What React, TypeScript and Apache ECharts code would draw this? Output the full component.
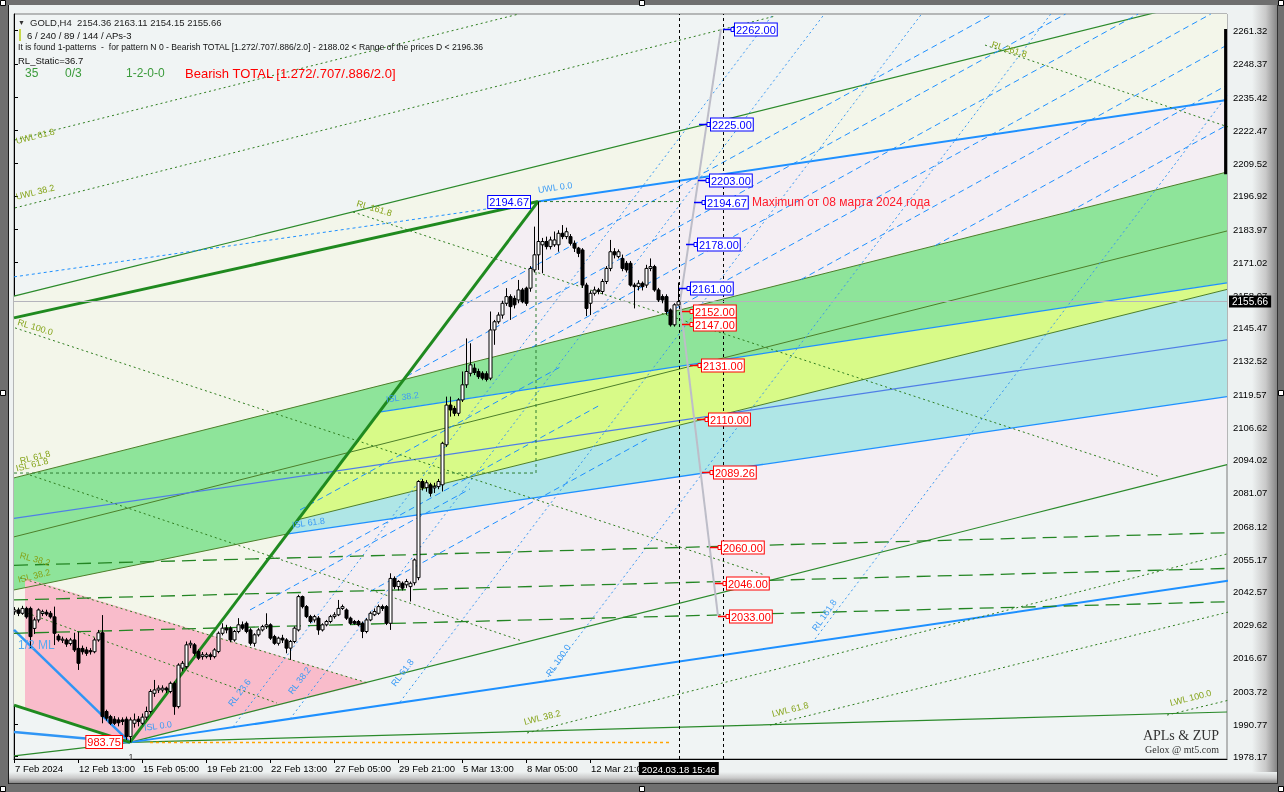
import { useEffect, useRef } from 'react';
import * as echarts from 'echarts';

// ---------- DATA (bar index on x, price on y) ----------
// H4 candles, bar 0 = 7 Feb 2024 21:00 ; [open, close, low, high]
const ohlc: number[][] = [
  [2034.7, 2035.4, 2033.5, 2036.5], [2035.4, 2034.1, 2033.0, 2036.3], [2034.1, 2036.0, 2033.5, 2037.0], [2036.0, 2032.7, 2032.0, 2036.7],
  [2036.0, 2025.0, 2020.4, 2036.7], [2028.2, 2031.5, 2026.0, 2032.5], [2031.5, 2035.4, 2030.5, 2036.0], [2034.0, 2034.7, 2033.0, 2035.5],
  [2034.5, 2033.8, 2033.0, 2035.5], [2034.1, 2032.7, 2032.0, 2035.0], [2032.7, 2026.3, 2021.7, 2036.7], [2025.2, 2023.7, 2023.0, 2026.0],
  [2023.7, 2024.0, 2022.5, 2025.0], [2023.7, 2022.1, 2021.0, 2024.5], [2022.3, 2023.7, 2021.5, 2024.5], [2023.7, 2019.8, 2019.0, 2026.5],
  [2020.4, 2014.6, 2012.0, 2026.9], [2020.4, 2019.1, 2018.0, 2021.5], [2019.8, 2018.5, 2017.5, 2021.0], [2019.5, 2019.1, 2018.0, 2020.5],
  [2019.1, 2023.7, 2018.5, 2024.5], [2023.7, 2026.5, 2023.0, 2027.6], [2026.5, 1993.8, 1991.2, 2033.4], [1995.8, 1993.2, 1992.2, 1996.5],
  [1993.8, 1991.2, 1990.5, 1994.5], [1992.8, 1991.2, 1990.5, 1994.0], [1992.5, 1991.4, 1990.0, 1993.5], [1992.5, 1991.9, 1990.5, 1993.5],
  [1992.8, 1986.0, 1984.7, 1993.8], [1986.0, 1992.5, 1983.75, 1993.5], [1991.2, 1992.5, 1989.5, 1995.0], [1992.8, 1991.9, 1990.0, 1994.0],
  [1991.2, 1993.6, 1990.5, 1995.0], [1993.6, 1995.8, 1992.5, 1997.7], [1995.8, 2003.6, 1995.0, 2004.5], [2002.9, 2004.2, 2001.5, 2008.1],
  [2004.2, 2004.9, 2003.0, 2006.0], [2004.2, 2004.9, 2003.2, 2006.0], [2004.9, 2004.2, 2003.0, 2005.5], [2003.6, 2006.8, 2002.9, 2007.5],
  [2006.8, 1997.7, 1994.5, 2007.5], [1997.7, 2013.9, 1997.0, 2014.6], [2012.7, 2014.6, 2011.5, 2015.5], [2013.3, 2021.8, 2012.5, 2023.1],
  [2021.8, 2022.4, 2020.5, 2023.5], [2021.8, 2018.5, 2017.5, 2022.5], [2019.2, 2016.6, 2015.9, 2020.0], [2017.2, 2017.9, 2016.0, 2019.0],
  [2017.2, 2017.9, 2016.5, 2018.8], [2017.9, 2017.2, 2015.9, 2018.8], [2017.2, 2019.8, 2016.5, 2020.5], [2019.2, 2026.3, 2018.5, 2027.0],
  [2026.3, 2028.3, 2025.5, 2030.2], [2028.3, 2027.6, 2026.3, 2029.6], [2028.3, 2023.7, 2022.8, 2029.0], [2023.7, 2027.0, 2023.0, 2027.6],
  [2027.0, 2029.6, 2026.3, 2032.2], [2029.6, 2028.3, 2027.6, 2030.9], [2030.2, 2027.0, 2026.3, 2030.9], [2027.6, 2022.4, 2021.5, 2028.3],
  [2022.4, 2025.7, 2021.1, 2026.3], [2025.7, 2027.6, 2025.0, 2028.3], [2027.6, 2028.9, 2027.0, 2029.6], [2028.9, 2029.6, 2028.0, 2034.1],
  [2029.6, 2024.4, 2023.7, 2030.2], [2025.0, 2022.4, 2021.8, 2025.7], [2022.4, 2024.4, 2021.5, 2025.0], [2024.4, 2023.7, 2022.5, 2025.7],
  [2023.7, 2020.5, 2018.5, 2024.4], [2020.5, 2023.1, 2015.9, 2023.7], [2023.1, 2028.3, 2022.4, 2029.0], [2027.6, 2040.6, 2027.0, 2041.3],
  [2040.6, 2036.7, 2036.0, 2041.0], [2036.7, 2032.8, 2032.2, 2037.3], [2032.8, 2030.9, 2030.2, 2033.5], [2031.5, 2032.8, 2030.5, 2033.5],
  [2032.2, 2027.6, 2025.7, 2033.0], [2027.6, 2029.6, 2027.0, 2030.2], [2029.6, 2030.9, 2029.0, 2031.5], [2030.9, 2032.8, 2030.2, 2033.5],
  [2032.8, 2033.5, 2032.0, 2034.5], [2033.5, 2036.0, 2033.0, 2039.3], [2036.0, 2036.7, 2035.4, 2037.5], [2035.4, 2032.2, 2031.5, 2036.0],
  [2032.2, 2030.2, 2029.6, 2032.8], [2030.9, 2030.2, 2029.6, 2031.5], [2030.9, 2029.6, 2029.0, 2031.5], [2030.2, 2027.0, 2024.4, 2030.9],
  [2027.0, 2031.5, 2026.3, 2032.2], [2031.5, 2034.1, 2031.0, 2034.8], [2033.5, 2034.8, 2033.0, 2036.0], [2034.1, 2036.7, 2033.5, 2037.5],
  [2036.7, 2036.0, 2035.0, 2037.5], [2036.7, 2030.2, 2029.5, 2037.3], [2030.2, 2047.7, 2027.6, 2049.7], [2047.7, 2044.5, 2043.5, 2048.5],
  [2044.5, 2046.5, 2043.0, 2047.0], [2045.8, 2043.9, 2043.0, 2046.5], [2045.2, 2046.5, 2044.0, 2047.5], [2044.5, 2045.8, 2038.7, 2046.5],
  [2046.0, 2054.9, 2045.0, 2055.5], [2048.0, 2085.5, 2047.0, 2086.0], [2085.5, 2083.1, 2082.0, 2086.5], [2083.1, 2085.0, 2081.5, 2086.0],
  [2084.2, 2080.9, 2079.6, 2085.0], [2083.0, 2083.6, 2081.0, 2085.0], [2083.5, 2085.5, 2082.5, 2086.5], [2084.2, 2100.4, 2081.6, 2101.0],
  [2099.8, 2115.3, 2099.0, 2118.6], [2115.3, 2113.4, 2110.8, 2118.6], [2114.0, 2112.1, 2111.0, 2115.0], [2112.1, 2117.3, 2111.0, 2118.0],
  [2117.3, 2123.2, 2116.5, 2128.4], [2123.2, 2128.4, 2122.0, 2141.3], [2127.7, 2131.0, 2126.5, 2139.4], [2129.7, 2128.0, 2127.0, 2131.5],
  [2128.4, 2126.4, 2125.5, 2129.5], [2127.7, 2125.8, 2125.0, 2128.5], [2127.5, 2125.3, 2124.5, 2128.5], [2125.8, 2144.6, 2125.0, 2151.8],
  [2144.6, 2147.8, 2138.8, 2148.5], [2147.8, 2150.4, 2147.0, 2151.5], [2150.4, 2155.0, 2149.0, 2156.0], [2155.0, 2157.6, 2154.0, 2160.9],
  [2157.6, 2153.7, 2148.5, 2158.5], [2156.9, 2154.4, 2153.0, 2158.0], [2156.3, 2160.2, 2155.0, 2164.1], [2160.2, 2155.6, 2155.0, 2161.0],
  [2160.9, 2155.0, 2154.0, 2161.5], [2160.9, 2168.6, 2159.5, 2169.5], [2168.0, 2173.9, 2167.0, 2184.9], [2173.9, 2179.1, 2168.0, 2194.67],
  [2177.8, 2179.1, 2166.7, 2180.5], [2179.1, 2177.1, 2176.0, 2181.0], [2177.1, 2179.7, 2176.0, 2181.0], [2177.8, 2179.7, 2177.0, 2183.0],
  [2177.8, 2182.3, 2175.1, 2183.5], [2182.3, 2181.0, 2180.0, 2185.5], [2181.0, 2182.9, 2180.0, 2184.5], [2181.0, 2178.4, 2177.5, 2182.0],
  [2178.4, 2176.5, 2175.0, 2179.5], [2176.5, 2174.5, 2173.0, 2177.0], [2175.8, 2162.1, 2161.0, 2176.5], [2162.1, 2153.0, 2150.0, 2163.0],
  [2155.0, 2158.9, 2150.4, 2160.0], [2158.9, 2160.2, 2158.0, 2161.5], [2160.2, 2159.6, 2158.5, 2161.0], [2159.6, 2163.5, 2158.5, 2164.5],
  [2163.5, 2168.6, 2162.5, 2169.5], [2168.6, 2175.1, 2167.5, 2179.7], [2175.1, 2173.9, 2172.5, 2176.5], [2173.2, 2175.1, 2172.5, 2176.0],
  [2172.5, 2168.6, 2167.5, 2174.0], [2170.6, 2168.0, 2167.0, 2171.5], [2170.6, 2162.1, 2161.5, 2171.5], [2162.1, 2161.5, 2153.0, 2163.0],
  [2161.5, 2162.8, 2160.0, 2164.0], [2162.8, 2161.5, 2160.0, 2163.5], [2162.1, 2168.6, 2161.0, 2170.0], [2168.6, 2169.3, 2167.5, 2172.5],
  [2169.3, 2160.2, 2159.5, 2170.0], [2160.2, 2156.3, 2155.5, 2161.0], [2157.6, 2156.3, 2155.0, 2158.5], [2157.6, 2151.8, 2150.5, 2158.5],
  [2152.4, 2146.6, 2145.9, 2153.0], [2146.6, 2154.4, 2145.9, 2155.0], [2154.36, 2155.66, 2154.15, 2163.11],
];

const xTickIndex = [0, 16, 32, 48, 64, 80, 96, 112, 128, 144];
const xTickLabels = ['7 Feb 2024', '12 Feb 13:00', '15 Feb 05:00', '19 Feb 21:00', '22 Feb 13:00', '27 Feb 05:00', '29 Feb 21:00', '5 Mar 13:00', '8 Mar 05:00', '12 Mar 21:00'];
const yTickValues = [2261.32, 2248.37, 2235.42, 2222.47, 2209.52, 2196.92, 2183.97, 2171.02, 2158.07, 2145.47, 2132.52, 2119.57, 2106.62, 2094.02, 2081.07, 2068.12, 2055.17, 2042.57, 2029.62, 2016.67, 2003.72, 1990.77, 1978.17];
const lastPrice = 2155.66;
const currentBar = 166.2;
const shiftBar = 177.2;
const currentTimeLabel = '2024.03.18 15:46';

// filled zones (polygons in bar/price)
const zoneCream = [[0, 2157.8], [284, 2267.82], [303.25, 2267.82], [303.25, 2234.3], [131, 2194.67], [29, 1983.75], [0, 1998.3]];
const zoneRose = [[29, 1983.75], [131, 2194.67], [303.25, 2234.3], [303.25, 2092.1]];
const bandGreen = [[0, 2086.9], [303.25, 2206.2], [303.25, 2163.0], [91.65, 2112.66], [68.55, 2065.1], [0, 2043.2]];
const bandYellow = [[91.65, 2112.66], [303.25, 2163.0], [303.25, 2160.4], [71.25, 2070.7]];
const bandCyan = [[68.55, 2065.1], [303.25, 2118.6], [303.25, 2160.4], [71.25, 2070.7]];
const zonePink = [[2.75, 2047.9], [88.5, 2006.9], [29, 1983.75], [2.75, 1996.9]];

// lines
const thickGreenLines = [
  [[29, 1983.75], [131, 2194.67]],
  [[0, 2149.3], [131, 2194.67]],
  [[0, 1998.3], [29, 1983.75]],
];
const greenSolidLines = [
  [[0, 2157.8], [303.25, 2275.3]],
  [[29, 1983.75], [303.25, 2092.1]],
  [[0, 1978.5], [29, 1983.75]],
  [[29, 1983.75], [303.25, 1995.6]],
];
const oliveSolidLines = [
  [[0, 2086.9], [303.25, 2206.2]],
  [[0, 2063.9], [303.25, 2183.2]],
  [[0, 2043.2], [68.55, 2065.1]],
  [[71.25, 2070.7], [303.25, 2160.4]],
];
const blueSolidLines = [
  [[131, 2194.67], [303.25, 2234.3]],
  [[91.65, 2112.66], [303.25, 2163.0]],
  [[68.55, 2065.1], [303.25, 2118.6]],
  [[29, 1983.75], [303.5, 2046.8]],
];
const blueThickLeft = [
  [[0, 2027.6], [29, 1983.75]],
  [[0, 1987.8], [29, 1983.75]],
];
const slateLine = [[0, 2071.1], [303.25, 2140.7]];
const blueDashedLeft = [[0, 2165.3], [131, 2194.67]];
const blueDashLines = [
  [[111.1, 2153.2], [244.7, 2267.82]],
  [[98.15, 2126.5], [262.9, 2267.82]],
  [[129.45, 2137.8], [281.05, 2267.82]],
  [[163.05, 2151.0], [299.2, 2267.82]],
  [[196.7, 2164.2], [303.25, 2255.7]],
  [[230.3, 2177.5], [303.25, 2240.05]],
  [[263.9, 2190.7], [303.25, 2224.5]],
  [[71.5, 2074.4], [136.5, 2130.1]],
  [[79, 2057.4], [146.5, 2115.3]],
  [[89, 2042.6], [159, 2102.7]],
  [[59, 2035.4], [114, 2082.6]],
];
const reactionLines = [
  [[54.75, 1989.8], [189.8, 2267.82]],
  [[69, 1992.9], [202.6, 2267.82]],
  [[96.5, 1999.5], [226.9, 2267.82]],
  [[132.75, 2007.7], [259.2, 2267.82]],
  [[199.5, 2022.5], [303.25, 2236.0]],
];
const greenDottedLines = [
  [[0.25, 2145.4], [187.75, 2049.0]],
  [[4, 2088.0], [127, 2023.3]],
  [[84.75, 2190.6], [286.5, 2087.3]],
  [[242.75, 2255.7], [303.5, 2223.8]],
  [[1.5, 2047.9], [88.5, 2006.9]],
  [[3.25, 2034.2], [65.75, 1999.1]],
  [[0.25, 2192.2], [190.25, 2267.0]],
  [[0.25, 2218.7], [126.25, 2267.82]],
  [[128.25, 1987.4], [303.9, 2057.5]],
  [[189, 1990.5], [303.9, 2034.7]],
  [[288.25, 1994.4], [303.9, 2000.3]],
];
const greenLongDash = [
  [[0, 2052.8], [303.25, 2065.5]],
  [[0, 2039.3], [303.5, 2051.6]],
  [[0, 2026.3], [303.5, 2038.6]],
];
const patternBox = [[0, 2088.8], [130.5, 2088.8], [130.5, 2168]];
const highLine = [[131, 2194.67], [166.5, 2194.67]];
const lowLine = [[34, 1983.75], [164.5, 1983.75]];
const projectionUp = [[166.5, lastPrice], [176.75, 2262]];
const projectionDown = [[166.5, lastPrice], [176, 2033]];
const rightBar = [[302.9, 2262], [302.9, 2205.3]];

// target levels
const targetPrices = [2262.0, 2225.0, 2203.0, 2194.67, 2178.0, 2161.0, 2152.0, 2147.0, 2131.0, 2110.0, 2089.26, 2060.0, 2046.0, 2033.0];
const targetBars = [180.25, 174.25, 174, 173, 171, 169.25, 170, 170, 172, 173.75, 175, 177, 178.25, 179];
const extremeTexts = ['2194.67', '983.75'];
const extremeAnchors = [[129, 2194.67], [27, 1983.75]];
const noteText = 'Maximum от 08 марта 2024 года';
const noteAnchor = [184.5, 2194.67];

// line captions
const captionTexts = ['UWL 61.8', 'UWL 38.2', 'RL 161.8', 'RL 100.0', 'RL 261.8', 'UWL 0.0', 'RL 61.8', 'ISL 61.8', 'RL 38.2', 'ISL 38.2', 'ISL 38.2', 'ISL 61.8', '1/2 ML', 'ISL 0.0', 'RL 23.6', 'RL 38.2', 'RL 61.8', 'RL 100.0', 'RL 161.8', 'LWL 38.2', 'LWL 61.8', 'LWL 100.0', '1'];
const captionAnchors = [
  [0.5, 2218.3], [0.5, 2196.5], [85.75, 2194.1], [1, 2147.7], [244.5, 2256.1], [131, 2199.2], [1.5, 2093.5], [0.5, 2090.5],
  [1.5, 2056.8], [1, 2047.1], [93, 2117.5], [69.5, 2068.5], [1, 2021.7], [32.5, 1989.4], [54, 1998.3], [69, 2003.0],
  [94.75, 2006.1], [133.5, 2010.0], [200, 2027.6], [127.5, 1991.7], [189.5, 1994.8], [289, 1999.1], [28.6, 1978.0],
];
const captionKind = ['g', 'g', 'g', 'g', 'g', 'b', 'g', 'g', 'g', 'g', 'b', 'b', 'm', 'b', 'b', 'b', 'b', 'b', 'b', 'g', 'g', 'g', 'k'];
const captionAngle = [14, 14, -17, -17, -17, 8, 14, 14, -15, 14, 8, 8, 0, 8, 53, 53, 53, 55, 55, 14, 14, 14, 0];

const headerLine1 = 'GOLD,H4  2154.36 2163.11 2154.15 2155.66';
const headerLine2 = '6 / 240 / 89 / 144 / APs-3';
const headerLine3 = 'It is found 1-patterns  -  for pattern N 0 - Bearish TOTAL [1.272/.707/.886/2.0] - 2188.02 < Range of the prices D < 2196.36';
const headerLine4 = 'RL_Static=36.7';
const statusItems = ['35', '0/3', '1-2-0-0'];
const statusPattern = 'Bearish TOTAL [1.272/.707/.886/2.0]';

// ---------- CHART ----------
const FONT = '"Liberation Sans", Arial, sans-serif';

function ln(data: number[][], color: string, width: number, type: any, z = 3) {
  return {
    type: 'line', data, symbol: 'none', silent: true, clip: true, z,
    lineStyle: { color, width, type }, emphasis: { disabled: true }, animation: false,
  };
}

export default function App() {
  const ref = useRef<HTMLDivElement>(null);
  useEffect(() => {
    document.body.style.margin = '0';
    const chart = echarts.init(ref.current!, null, { renderer: 'svg' });
    const polys = [zoneCream, zoneRose, bandGreen, bandYellow, bandCyan, zonePink];
    const polyFill = ['#f3f6ea', '#f4eef3', '#8ee49a', '#d8fa88', '#afe6e6', '#f9bccb'];
    const G = echarts.graphic as any;

    const series: any[] = [];
    series.push({
      type: 'custom', silent: true, z: 1, clip: true,
      data: polys.map((_, k) => [k]),
      renderItem: (params: any, api: any) => {
        const k = params.dataIndex;
        return { type: 'polygon', shape: { points: polys[k].map((p) => api.coord(p)) }, style: { fill: polyFill[k] } };
      },
    });
    thickGreenLines.forEach((d) => series.push(ln(d, '#1f8a1f', 3, 'solid', 4)));
    greenSolidLines.forEach((d) => series.push(ln(d, '#2b8a2b', 1.2, 'solid')));
    oliveSolidLines.forEach((d) => series.push(ln(d, '#4d7f2a', 1, 'solid')));
    blueSolidLines.forEach((d, k) => series.push(ln(d, '#1e90ff', k === 0 || k === 3 ? 2 : 1.3, 'solid')));
    blueThickLeft.forEach((d) => series.push(ln(d, '#2f95f5', 2.5, 'solid')));
    series.push(ln(slateLine, '#4f7ee6', 1.2, 'solid'));
    series.push(ln(blueDashedLeft, '#1e90ff', 1, [3, 3]));
    blueDashLines.forEach((d) => series.push(ln(d, '#1e90ff', 1, [6, 4])));
    reactionLines.forEach((d) => series.push(ln(d, '#3a98f0', 1, [2, 3])));
    greenDottedLines.forEach((d) => series.push(ln(d, '#2e7d1e', 1, [2, 3])));
    greenLongDash.forEach((d) => series.push(ln(d, '#238523', 1.3, [14, 7])));
    series.push(ln(patternBox, '#2e7d32', 1, [3, 3]));
    series.push(ln(highLine, '#2e7d32', 1, [3, 3]));
    series.push(ln(lowLine, '#ffa500', 1.5, [3, 3]));
    series.push(ln(projectionUp, '#bdbdc8', 2, 'solid'));
    series.push(ln(projectionDown, '#bdbdc8', 2, 'solid'));
    series.push(ln(rightBar, '#000', 3, 'solid'));

    // candles
    series.push({
      type: 'custom', silent: true, z: 6, clip: true,
      data: ohlc.map((d, k) => [k, d[0], d[1], d[2], d[3]]),
      encode: { x: 0, y: [1, 2, 3, 4] },
      renderItem: (params: any, api: any) => {
        const i = api.value(0);
        const o = api.coord([i, api.value(1)]);
        const c = api.coord([i, api.value(2)]);
        const l = api.coord([i, api.value(3)]);
        const h = api.coord([i, api.value(4)]);
        const cx = Math.round(o[0]) + 0.5;
        const bull = api.value(2) >= api.value(1);
        const top = Math.min(o[1], c[1]);
        const bh = Math.max(1, Math.abs(o[1] - c[1]));
        return {
          type: 'group', children: [
            { type: 'line', shape: { x1: cx, y1: h[1], x2: cx, y2: l[1] }, style: { stroke: '#000', lineWidth: 1 } },
            { type: 'rect', shape: { x: cx - 1.5, y: top, width: 3, height: bh }, style: { fill: bull ? '#fff' : '#000', stroke: '#000', lineWidth: 1 } },
          ],
        };
      },
      markLine: {
        symbol: ['none', 'none'], silent: true, animation: false,
        data: [
          { xAxis: currentBar, lineStyle: { color: '#000', type: [3, 3], width: 1 },
            label: { show: true, position: 'start', formatter: currentTimeLabel, backgroundColor: '#000', color: '#fff', padding: [2, 3, 1, 3], fontSize: 9.5, fontFamily: FONT, distance: 3 } },
          { xAxis: shiftBar, lineStyle: { color: '#000', type: [3, 3], width: 1 }, label: { show: false } },
          { yAxis: lastPrice, lineStyle: { color: '#b4b4bc', type: 'solid', width: 1 },
            label: { show: true, position: 'end', formatter: lastPrice.toFixed(2), backgroundColor: '#000', color: '#fff', padding: [1, 3, 1, 3], fontSize: 10, fontFamily: FONT, distance: 2 } },
        ],
      },
    });

    // target boxes
    series.push({
      type: 'custom', silent: true, z: 8, clip: false,
      data: targetPrices.map((p, k) => [targetBars[k], p]),
      renderItem: (params: any, api: any) => {
        const pt = api.coord([api.value(0), api.value(1)]);
        const price = api.value(1);
        const col = price > lastPrice ? '#0000ff' : '#ff0000';
        const x = Math.round(pt[0]);
        const y = Math.round(pt[1]) + 0.5;
        return {
          type: 'group', children: [
            { type: 'line', shape: { x1: x - 12, y1: y, x2: x - 2, y2: y }, style: { stroke: col, lineWidth: 1.5 } },
            { type: 'rect', shape: { x: x - 4, y: y - 2, width: 3, height: 4 }, style: { fill: '#fff', stroke: col, lineWidth: 1 } },
            { type: 'text', x, y, style: { text: price.toFixed(2), fill: col, font: '11px ' + FONT, align: 'left', verticalAlign: 'middle', backgroundColor: '#fff', borderColor: col, borderWidth: 1, padding: [1, 1, 0, 1] } },
          ],
        };
      },
    });
    series.push({
      type: 'custom', silent: true, z: 8, clip: false,
      data: extremeAnchors.map((a, k) => [a[0], a[1], k]),
      renderItem: (params: any, api: any) => {
        const k = params.dataIndex;
        const pt = api.coord([api.value(0), api.value(1)]);
        const col = k === 0 ? '#0000ff' : '#ff0000';
        return { type: 'text', x: Math.round(pt[0]), y: Math.round(pt[1]), style: { text: extremeTexts[k], fill: col, font: '11px ' + FONT, align: 'right', verticalAlign: 'middle', backgroundColor: '#fff', borderColor: col, borderWidth: 1, padding: [1, 1, 0, 1] } };
      },
    });
    series.push({
      type: 'custom', silent: true, z: 8, clip: false,
      data: [noteAnchor],
      renderItem: (params: any, api: any) => {
        const pt = api.coord([api.value(0), api.value(1)]);
        return { type: 'text', x: pt[0], y: pt[1], style: { text: noteText, fill: '#ff1a2a', font: '12px ' + FONT, align: 'left', verticalAlign: 'middle' } };
      },
    });
    // captions
    const capColor: any = { g: '#86a51c', b: '#3d9cf5', m: '#5aaaf0', k: '#333' };
    series.push({
      type: 'custom', silent: true, z: 7, clip: false,
      data: captionAnchors.map((a, k) => [a[0], a[1], k]),
      renderItem: (params: any, api: any) => {
        const k = params.dataIndex;
        const pt = api.coord([api.value(0), api.value(1)]);
        return {
          type: 'text', x: pt[0], y: pt[1], rotation: (captionAngle[k] * Math.PI) / 180,
          style: { text: captionTexts[k], fill: capColor[captionKind[k]], font: (captionKind[k] === 'm' ? '12px ' : '9px ') + FONT, align: 'left', verticalAlign: 'middle' },
        };
      },
    });

    const handles = [[0, 0], [639, 0], [1278, 0], [0, 390], [1278, 390], [0, 786], [639, 786], [1278, 786]];
    const graphicEls: any[] = [
      { type: 'rect', z: -100, silent: true, shape: { x: 0, y: 0, width: 1284, height: 792 }, style: { fill: '#6f6f6f' } },
      { type: 'rect', z: -99, silent: true, shape: { x: 9, y: 5, width: 1268, height: 778 }, style: { fill: '#eef2f2' } },
      { type: 'rect', z: -98, silent: true, shape: { x: 1252, y: 5, width: 25, height: 778 },
        style: { fill: new G.LinearGradient(0, 0, 1, 0, [{ offset: 0, color: '#eef2f2' }, { offset: 0.55, color: '#c9c9c9' }, { offset: 1, color: '#858585' }]) } },
      { type: 'rect', z: -98, silent: true, shape: { x: 9, y: 772, width: 1268, height: 11 },
        style: { fill: new G.LinearGradient(0, 0, 0, 1, [{ offset: 0, color: '#eef2f2' }, { offset: 0.55, color: '#c9c9c9' }, { offset: 1, color: '#858585' }]) } },
      { type: 'line', z: -97, silent: true, shape: { x1: 8.5, y1: 5, x2: 8.5, y2: 784 }, style: { stroke: '#1a1a1a', lineWidth: 1 } },
      { type: 'line', z: -97, silent: true, shape: { x1: 1277.5, y1: 5, x2: 1277.5, y2: 784 }, style: { stroke: '#333', lineWidth: 1 } },
      { type: 'line', z: -97, silent: true, shape: { x1: 9, y1: 783.5, x2: 1278, y2: 783.5 }, style: { stroke: '#333', lineWidth: 1 } },
      ...handles.map((h) => ({ type: 'rect', z: 120, silent: true, shape: { x: h[0] + 0.5, y: h[1] + 0.5, width: 5, height: 5 }, style: { fill: '#fff', stroke: '#000', lineWidth: 1 } })),
      { type: 'text', z: 100, silent: true, x: 18, y: 22, style: { text: '▼', font: '7px ' + FONT, fill: '#333', verticalAlign: 'middle' } },
      { type: 'text', z: 100, silent: true, x: 30, y: 22, style: { text: headerLine1, font: '9.5px ' + FONT, fill: '#222', verticalAlign: 'middle' } },
      { type: 'rect', z: 100, silent: true, shape: { x: 19, y: 29, width: 2, height: 12 }, style: { fill: '#c8d84a' } },
      { type: 'text', z: 100, silent: true, x: 27, y: 35, style: { text: headerLine2, font: '9.5px ' + FONT, fill: '#111', verticalAlign: 'middle' } },
      { type: 'text', z: 100, silent: true, x: 18, y: 47, style: { text: headerLine3, font: '8.6px ' + FONT, fill: '#111', verticalAlign: 'middle' } },
      { type: 'text', z: 100, silent: true, x: 18, y: 60, style: { text: headerLine4, font: '9.5px ' + FONT, fill: '#111', verticalAlign: 'middle' } },
      { type: 'text', z: 100, silent: true, x: 25, y: 73, style: { text: statusItems[0], font: '12px ' + FONT, fill: '#3a9a3a', verticalAlign: 'middle' } },
      { type: 'text', z: 100, silent: true, x: 65, y: 73, style: { text: statusItems[1], font: '12px ' + FONT, fill: '#3a9a3a', verticalAlign: 'middle' } },
      { type: 'text', z: 100, silent: true, x: 126, y: 73, style: { text: statusItems[2], font: '12px ' + FONT, fill: '#3a9a3a', verticalAlign: 'middle' } },
      { type: 'text', z: 100, silent: true, x: 185, y: 73, style: { text: statusPattern, font: '13px ' + FONT, fill: '#ff0000', verticalAlign: 'middle' } },
      { type: 'text', z: 100, silent: true, x: 1181, y: 735, style: { text: 'APLs & ZUP', font: '14px "Liberation Serif", serif', fill: '#333', align: 'center', verticalAlign: 'middle' } },
      { type: 'text', z: 100, silent: true, x: 1182, y: 749, style: { text: 'Gelox @ mt5.com', font: '10px "Liberation Serif", serif', fill: '#333', align: 'center', verticalAlign: 'middle' } },
    ];

    chart.setOption({
      animation: false,
      grid: { left: 14, top: 14, right: 57, bottom: 33, show: true, backgroundColor: '#f0f4f4', borderColor: '#7a7a7a', borderWidth: 1 },
      xAxis: {
        type: 'value', min: 0, max: 303.25, position: 'bottom',
        axisLine: { show: true, onZero: false, lineStyle: { color: '#000', width: 1 } },
        axisTick: { show: true, customValues: xTickIndex, length: 4, lineStyle: { color: '#000' } },
        axisLabel: {
          show: true, customValues: xTickIndex, showMinLabel: true, hideOverlap: false,
          formatter: (v: number) => xTickLabels[xTickIndex.indexOf(Math.round(v))] ?? '',
          align: 'left', margin: 4, padding: [0, 0, 0, 1], fontSize: 9.5, fontFamily: FONT, color: '#000',
        },
        splitLine: { show: false },
      },
      yAxis: {
        type: 'value', position: 'right', min: 1977.27, max: 2267.82, scale: true,
        axisLine: { show: true, lineStyle: { color: '#000', width: 1 } },
        axisTick: { show: true, customValues: yTickValues, length: 4, lineStyle: { color: '#000' } },
        axisLabel: { show: true, customValues: yTickValues, formatter: (v: number) => v.toFixed(2), margin: 6, fontSize: 9.5, fontFamily: FONT, color: '#000' },
        splitLine: { show: false },
      },
      graphic: { elements: graphicEls },
      series,
    });
    return () => chart.dispose();
  }, []);
  return <div ref={ref} style={{ position: 'fixed', left: 0, top: 0, width: 1284, height: 792 }} />;
}
